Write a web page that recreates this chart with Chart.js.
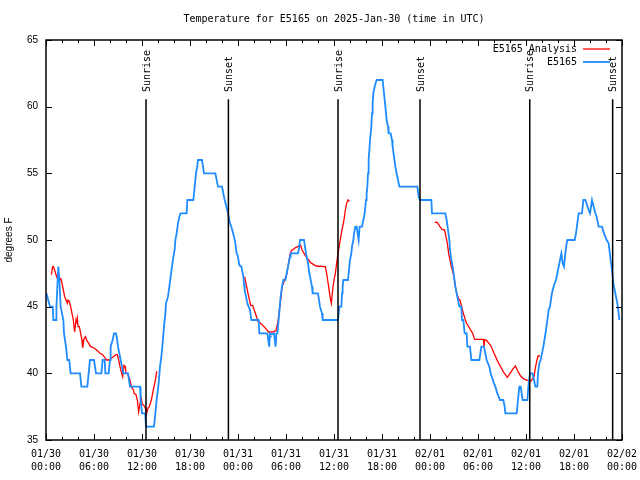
<!DOCTYPE html>
<html><head><meta charset="utf-8">
<script src="https://cdn.jsdelivr.net/npm/chart.js@4/dist/chart.umd.min.js"></script>
<style>html,body{margin:0;padding:0;background:#fff;overflow:hidden}</style>
</head><body>
<canvas id="c" width="640" height="480"></canvas>
<script>
const titleText = 'Temperature for E5165 on 2025-Jan-30 (time in UTC)';
const yAxisTitle = 'degrees F';
const dayLabels = ['01/30', '01/31', '02/01', '02/02'];
const sunTimes = [12.5, 22.8, 36.5, 46.75, 60.47, 70.83];
const sunLabels = ['Sunrise', 'Sunset', 'Sunrise', 'Sunset', 'Sunrise', 'Sunset'];

// E5165 observations: hours since 01/30 00:00 UTC, degrees F
const blueT = [0.05,0.5,0.85,0.92,1.25,1.3,1.54,1.67,1.83,2.0,2.17,2.25,2.5,2.67,2.9,3.08,4.25,4.42,5.17,5.33,5.5,6.0,6.25,6.92,7.08,7.33,7.42,7.83,8.0,8.08,8.33,8.5,8.75,8.9,9.0,9.17,9.33,9.5,9.67,10.25,10.5,11.75,11.83,12.0,12.4,12.5,13.5,13.67,13.83,14.08,14.25,14.42,14.58,14.75,14.92,15.0,15.25,15.42,15.58,15.75,15.92,16.08,16.17,16.33,16.5,16.67,16.83,17.58,17.67,18.42,18.75,18.9,19.0,19.5,19.75,21.17,21.5,22.0,22.33,22.67,22.83,23.0,23.17,23.5,23.67,23.83,24.0,24.17,24.42,24.67,24.75,24.83,25.0,25.17,25.33,25.5,25.67,26.58,26.67,27.67,27.9,28.0,28.1,28.5,28.7,28.8,28.92,29.08,29.33,29.5,29.67,29.92,30.17,30.25,30.5,30.58,31.5,31.67,31.75,32.25,32.5,32.75,32.92,33.25,33.33,34.0,34.25,34.5,34.58,36.5,36.67,36.92,37.0,37.08,37.17,37.75,38.0,38.17,38.25,38.42,38.5,38.67,38.83,39.08,39.2,39.5,39.67,39.83,39.92,40.0,40.08,40.17,40.25,40.33,40.42,40.5,40.67,40.75,40.83,40.92,41.08,41.33,42.08,42.25,42.42,42.58,42.75,42.83,43.08,43.25,43.33,43.5,43.67,43.83,44.0,44.17,46.42,46.58,46.75,48.17,48.25,49.92,50.08,50.25,50.42,50.5,50.67,50.83,51.0,51.17,51.33,51.5,51.67,51.92,52.0,52.17,52.33,52.58,52.67,53.0,53.17,54.17,54.42,54.75,55.08,55.42,55.58,56.0,56.17,56.42,56.75,57.17,57.33,57.42,58.83,59.0,59.17,59.33,59.58,60.17,60.33,60.5,60.83,61.0,61.17,61.42,61.5,61.67,61.83,62.0,62.17,62.5,62.67,62.83,63.0,63.17,63.33,63.58,63.75,64.0,64.17,64.33,64.42,64.58,64.75,64.92,65.08,65.17,66.08,66.25,66.58,67.0,67.17,67.42,67.83,68.0,68.25,68.67,68.83,69.08,69.5,69.75,70.08,70.33,70.58,70.75,70.92,71.08,71.25,71.42,71.58,71.67];
const blueV = [46,45,45,44,44,45,48,47,45,44.5,44,43,42,41,41,40,40,39,39,40,41,41,40,40,41,41,40,40,41,42,42.5,43,43,42.5,42,41.5,41,40.5,40,40,39,39,38,37,37,36,36,37,38,39.25,40.5,41.25,42.25,43.5,44.5,45.25,45.75,46.5,47.25,48,48.75,49.25,50,50.5,51.25,51.75,52,52,53,53,55,55.5,56,56,55,55,54,54,53,52.25,51.75,51.25,51,50.25,49.75,49,48.75,48.1,48,47.25,46.75,46.25,45.75,45.25,45,44.75,44,44,43,43,42,43,42.9,43,42,43,43,44,45.75,46.5,47,47,47.75,48,48.75,49,49,49.5,50,50,49,48.25,47.5,46.5,46,46,45,44.5,44,44,45,45,46,46.5,47,47,48.5,49,49.5,50,50.5,51,51,50,51,51,51.5,52,52.5,53,53.5,54,55,56,56.75,57.5,58.5,59.5,60.25,61,61.5,62,62,61,60,59,58.5,58,58,57.5,57,56.25,55.5,55,54.5,54,54,53.25,53,53,52,52,51.5,50.75,50,49.25,48.5,48,47.25,46.5,46,45.5,45,45,44,44,43,43,42,42,41,41,42,42,41,40.5,40,39.25,39,38.5,38,38,37.5,37,37,38,39,39,38,38,39.25,40,40,39.5,39,39,40,40.75,41,41.5,42,43.25,44,44.75,45,45.75,46.25,46.75,47,47.75,48.25,48.75,49,48.25,48,49,49.75,50,50,50.5,52,52,53,53,52.25,52,53,52,51.75,51,51,50.5,50,49.75,48.5,47.75,46.75,46.25,45.75,45.25,44.5,44];

// E5165 Analysis (null = missing)
const redT = [0.67,0.83,0.92,1.08,1.33,1.5,1.67,1.83,1.92,2.0,2.17,2.33,2.5,2.67,2.75,2.92,3.08,3.25,3.42,3.5,3.58,3.75,3.83,3.92,4.0,4.17,4.33,4.5,4.58,4.75,4.92,5.08,5.33,5.58,6.0,6.33,6.75,7.08,7.33,7.58,7.83,8.08,8.42,8.75,8.92,9.08,9.25,9.42,9.58,9.75,9.92,10.0,10.17,10.33,10.5,10.67,10.92,11.0,11.25,11.42,11.58,11.75,11.92,12.0,12.33,12.5,12.58,12.75,12.92,13.17,13.33,13.5,13.67,13.83,13.92,
 19,
 24.83,25.08,25.25,25.58,25.83,26.17,26.5,26.92,27.25,27.83,28.25,28.75,29.0,29.17,29.33,29.5,29.83,30.08,30.25,30.5,30.67,31.25,31.83,32.0,32.5,33.08,33.75,34.92,35.08,35.33,35.5,35.67,35.83,36.0,36.17,36.33,36.5,36.67,36.92,37.08,37.25,37.42,37.58,37.75,37.92,
 43,
 48.58,48.92,49.25,49.5,49.83,50.17,50.33,50.5,50.67,51.0,51.17,51.33,51.58,51.75,52.17,52.42,52.58,52.83,53.08,53.33,53.58,54.67,54.75,54.8,55.0,55.58,55.83,56.0,56.58,56.83,57.17,57.42,57.67,58.0,58.33,58.67,59.08,59.33,59.67,60.0,60.33,60.58,61.0,61.17,61.33,61.5,61.75];
const redV = [47.4,48,48,47.75,47.25,47,46.9,47.1,47,46.75,46.25,45.75,45.5,45.25,45.5,45.4,45,44.5,44,43.5,43.1,44,43.75,44.1,43.5,43.5,43,42.5,41.9,42.6,42.75,42.5,42.25,42,41.9,41.75,41.5,41.4,41.2,41,41,41.1,41.25,41.4,41.4,41,40.5,40.1,39.75,40.6,40.5,40,40,39.75,39.5,39,38.75,38.5,38.4,38,37.1,37.75,38.1,37.75,37.5,37.25,37,37.4,37.5,38,38.5,39,39.5,40.1,40.1,
 null,
 47.25,46.5,46,45.1,45.1,44.5,43.9,43.7,43.5,43.1,43.1,43.2,43.9,44.75,45.5,46.5,47,47.4,48,48.9,49.2,49.45,49.6,49.25,48.75,48.3,48.05,48,47.5,46.5,45.75,45.25,46.25,47,47.5,48.25,49,49.6,50.5,51,51.5,52.25,52.75,53,52.9,
 null,
 51.35,51.3,51,50.8,50.75,49.75,49,48.5,48,47.25,46.5,46,45.6,45.5,44.5,44,43.75,43.5,43.25,43,42.55,42.55,42.1,42.5,42.5,42.1,41.75,41.5,40.75,40.5,40.1,39.9,39.7,40,40.3,40.55,40.05,39.8,39.6,39.5,39.45,39.4,39.75,40.4,40.9,41.3,41.3];

const toPts = (T, V) => T.map((t, i) => ({ x: t, y: V[i] }));

const MONO = 'DejaVu Sans Mono';
const SANS = 'Liberation Sans';

const framePlugin = {
  id: 'frame',
  afterDraw(chart) {
    const ctx = chart.ctx, a = chart.chartArea;
    const xs = chart.scales.x, ys = chart.scales.y;
    ctx.save();
    ctx.strokeStyle = '#000';
    ctx.lineWidth = 1;
    ctx.beginPath();
    xs.ticks.forEach(tk => {
      const px = Math.round(xs.getPixelForValue(tk.value)) + 0.5;
      const len = tk.value % 6 === 0 ? 6 : 3;
      ctx.moveTo(px, a.bottom); ctx.lineTo(px, a.bottom - len);
      ctx.moveTo(px, a.top); ctx.lineTo(px, a.top + len);
    });
    ys.ticks.forEach(tk => {
      const py = Math.round(ys.getPixelForValue(tk.value)) + 0.5;
      ctx.moveTo(a.left, py); ctx.lineTo(a.left + 6, py);
      ctx.moveTo(a.right, py); ctx.lineTo(a.right - 6, py);
    });
    ctx.stroke();
    ctx.lineWidth = 1.5;
    ctx.strokeRect(Math.round(a.left), Math.round(a.top), Math.round(a.right - a.left), Math.round(a.bottom - a.top));
    ctx.font = '10px "' + MONO + '"';
    ctx.fillStyle = '#000';
    sunTimes.forEach((t, i) => {
      const px = xs.getPixelForValue(t);
      ctx.beginPath();
      ctx.moveTo(px, ys.getPixelForValue(35));
      ctx.lineTo(px, ys.getPixelForValue(60.55));
      ctx.stroke();
      ctx.save();
      ctx.translate(px + 1, ys.getPixelForValue(61.1));
      ctx.rotate(-Math.PI / 2);
      ctx.textAlign = 'left';
      ctx.textBaseline = 'middle';
      ctx.fillText(sunLabels[i], 0, 0);
      ctx.restore();
    });
    const ds = chart.data.datasets;
    [0, 1].forEach((di, r) => {
      const y = a.top + 9 + r * 13;
      ctx.textAlign = 'right';
      ctx.textBaseline = 'middle';
      ctx.fillStyle = '#000';
      ctx.fillText(ds[di].label, a.right - 45, y);
      ctx.strokeStyle = ds[di].borderColor;
      ctx.lineWidth = ds[di].borderWidth;
      ctx.beginPath();
      ctx.moveTo(a.right - 39, y); ctx.lineTo(a.right - 12, y);
      ctx.stroke();
    });
    ctx.fillStyle = '#000';
    ctx.textAlign = 'center';
    ctx.textBaseline = 'middle';
    ctx.fillText(titleText, (a.left + a.right) / 2, 19);
    ctx.restore();
  }
};

new Chart(document.getElementById('c'), {
  type: 'line',
  data: {
    datasets: [
      { label: 'E5165 Analysis', data: toPts(redT, redV), borderColor: '#ff0000', borderWidth: 1.3, pointRadius: 0, tension: 0, spanGaps: false, order: 1 },
      { label: 'E5165', data: toPts(blueT, blueV), borderColor: '#1e8cff', borderWidth: 1.8, pointRadius: 0, tension: 0, order: 0 }
    ]
  },
  options: {
    responsive: false,
    animation: false,
    devicePixelRatio: 1,
    layout: { padding: { top: 40, right: 18, left: 0, bottom: 0 } },
    plugins: { legend: { display: false }, title: { display: false }, tooltip: { enabled: false } },
    scales: {
      x: {
        type: 'linear', min: 0, max: 72,
        afterFit(s) { s.height = 40; s.paddingLeft = 0; s.paddingRight = 0; },
        grid: { display: false, drawTicks: false },
        border: { display: false },
        ticks: {
          stepSize: 2, autoSkip: false, maxRotation: 0, minRotation: 0, padding: 8, color: '#000',
          font: { family: MONO, size: 10, lineHeight: 1.3 },
          callback(v) {
            if (v % 6 !== 0) return '';
            const d = dayLabels[Math.floor(v / 24)];
            const h = String(v % 24).padStart(2, '0') + ':00';
            return [d, h];
          }
        }
      },
      y: {
        min: 35, max: 65,
        afterFit(s) { s.width = 46; s.paddingTop = 0; s.paddingBottom = 0; },
        grid: { display: false, drawTicks: false },
        border: { display: false },
        ticks: { stepSize: 5, padding: 8, color: '#000', font: { family: SANS, size: 10 } },
        title: { display: true, text: yAxisTitle, color: '#000', font: { family: SANS, size: 10 }, padding: { top: 3, bottom: 0 } }
      }
    }
  },
  plugins: [framePlugin]
});
</script>
</body></html>
